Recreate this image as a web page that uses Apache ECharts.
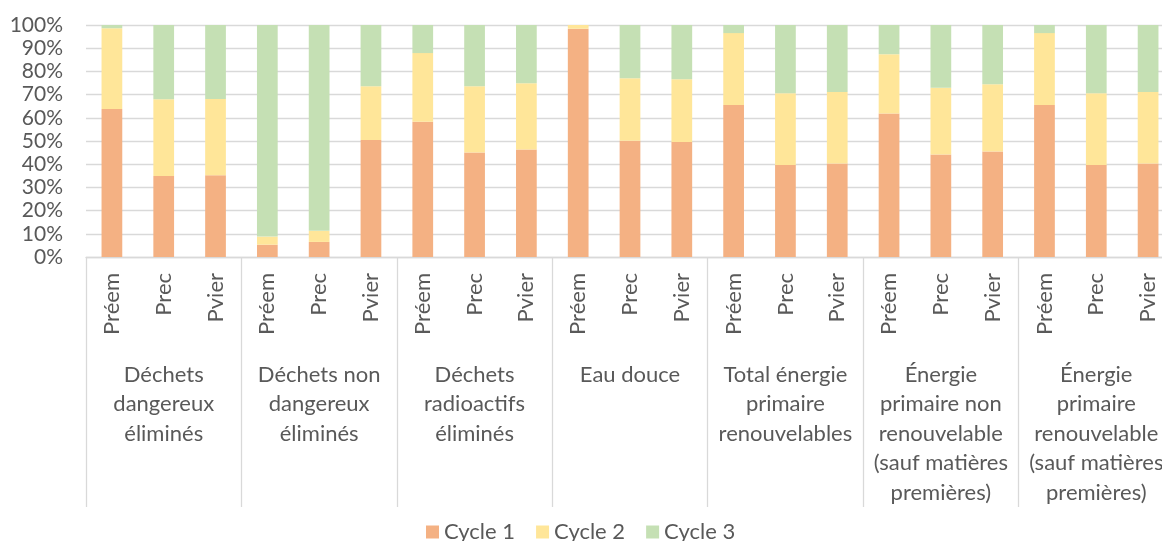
<!DOCTYPE html>
<html>
<head>
<meta charset="utf-8">
<script src="https://cdn.jsdelivr.net/npm/echarts@6/dist/echarts.min.js"></script>
<style>
  html, body { margin: 0; padding: 0; background: #ffffff; overflow: hidden; width: 1162px; height: 541px; }
  /* the drawing surface is wider than the window so the plot can run past its right edge */
  #chart { width: 1200px; height: 541px; }
</style>
</head>
<body>
<div id="chart"></div>
<script>
// Impact categories (outer axis level)
const groups = [
  'Déchets\ndangereux\néliminés',
  'Déchets non\ndangereux\néliminés',
  'Déchets\nradioactifs\néliminés',
  'Eau douce',
  'Total énergie\nprimaire\nrenouvelables',
  'Énergie\nprimaire non\nrenouvelable\n(sauf matières\npremières)',
  'Énergie\nprimaire\nrenouvelable\n(sauf matières\npremières)'
];
// Scenarios shown inside each category (inner axis level)
const scenarios = ['Préem', 'Prec', 'Pvier'];

// Share of each cycle, in %, one value per (category, scenario) pair
const cycle1 = [63.8, 34.9, 35.2, 5.3, 6.5, 50.4, 58.3, 45.0, 46.3, 98.4, 50.1, 49.6, 65.5, 39.7, 40.3, 61.9, 44.2, 45.5, 65.5, 39.7, 40.3];
const cycle2 = [34.8, 33.1, 32.9, 3.5, 4.8, 23.2, 29.6, 28.6, 28.6, 1.6, 27.0, 27.0, 31.0, 30.9, 30.8, 25.5, 28.8, 29.0, 31.0, 30.9, 30.8];
const cycle3 = [1.4, 32.0, 31.9, 91.2, 88.7, 26.4, 12.1, 26.4, 25.1, 0.0, 22.9, 23.4, 3.5, 29.4, 28.9, 12.6, 27.0, 25.5, 3.5, 29.4, 28.9];

const seriesNames = ['Cycle 1', 'Cycle 2', 'Cycle 3'];
const seriesColors = ['#F4B183', '#FFE699', '#C5E0B4'];
const yTicks = [0, 10, 20, 30, 40, 50, 60, 70, 80, 90, 100];

const innerCats = [];
groups.forEach(() => scenarios.forEach(s => innerCats.push(s)));

const FONT = 'Lato';
const TXT = '#595959';
const GRID = '#D9D9D9';

const chart = echarts.init(document.getElementById('chart'), null, { renderer: 'canvas' });
chart.setOption({
  animation: false,
  textStyle: { fontFamily: FONT, color: TXT },
  grid: { left: 86, top: 25, width: 1088, height: 232, containLabel: false },
  legend: {
    data: seriesNames,
    top: 516,
    left: 421,
    icon: 'rect',
    itemWidth: 13,
    itemHeight: 13,
    itemGap: 21,
    textStyle: { fontFamily: FONT, fontSize: 22, color: TXT }
  },
  xAxis: [
    {
      type: 'category',
      data: innerCats,
      position: 'bottom',
      axisLine: { show: true, lineStyle: { color: GRID, width: 1.3 } },
      axisTick: { show: false },
      axisLabel: {
        interval: 0,
        rotate: 90,
        margin: 16,
        fontFamily: FONT,
        fontSize: 22,
        color: TXT
      }
    },
    {
      type: 'category',
      data: groups,
      position: 'bottom',
      axisLine: { show: false },
      axisTick: {
        show: true,
        inside: false,
        length: 250,
        interval: 0,
        lineStyle: { color: GRID, width: 1.3 }
      },
      axisLabel: {
        interval: 0,
        margin: 103,
        fontFamily: FONT,
        fontSize: 22,
        lineHeight: 29.5,
        color: TXT,
        verticalAlign: 'top',
        align: 'center'
      }
    }
  ],
  yAxis: {
    type: 'value',
    min: yTicks[0],
    max: yTicks[yTicks.length - 1],
    interval: 10,
    axisLine: { show: false },
    axisTick: { show: false },
    splitLine: { lineStyle: { color: GRID, width: 1.3 } },
    axisLabel: {
      formatter: '{value}%',
      margin: 23,
      fontFamily: FONT,
      fontSize: 21,
      color: TXT
    }
  },
  series: [cycle1, cycle2, cycle3].map((vals, i) => ({
    name: seriesNames[i],
    type: 'bar',
    stack: 'cycles',
    xAxisIndex: 0,
    barWidth: '40%',
    itemStyle: { color: seriesColors[i] },
    data: vals
  }))
});
</script>
</body>
</html>
